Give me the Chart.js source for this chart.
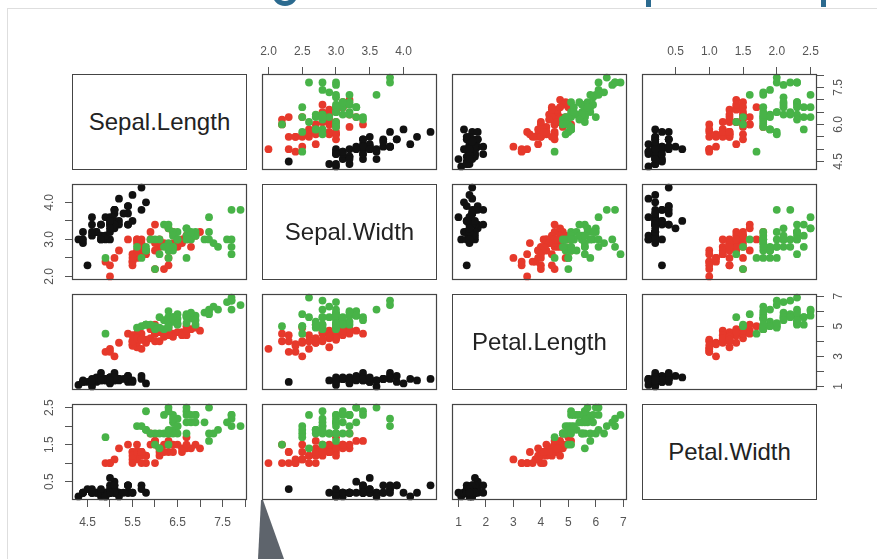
<!DOCTYPE html>
<html>
<head>
<meta charset="utf-8">
<title>Iris pairs plot</title>
<script src="https://cdn.jsdelivr.net/npm/chart.js@4.4.1/dist/chart.umd.min.js"></script>
<style>
  html, body { margin: 0; padding: 0; background: #fff; }
  #page { position: relative; width: 877px; height: 559px; overflow: hidden; font-family: "Liberation Sans", Arial, sans-serif; }
  .frame { position: absolute; left: 7px; top: 8px; width: 900px; height: 600px; border-left: 1px solid #dedede; border-top: 1px solid #dedede; }
  .title-bit { position: absolute; background: #2b6a8f; }
  .title-hook { position: absolute; left: 272px; top: -20px; width: 16px; height: 16px; border: 5px solid #2b6a8f; border-radius: 50%; }
  .tail { position: absolute; left: 250px; top: 495px; width: 40px; height: 64px; background: #5e646c;
          clip-path: polygon(11px 5px, 13px 5px, 34px 64px, 8px 64px); }
  .diag { position: absolute; box-sizing: border-box; border: 1px solid #444; display: flex; align-items: center; justify-content: center; font-size: 24px; color: #222; }
  canvas { position: absolute; }
</style>
</head>
<body>
<div id="page">
  <div class="frame"></div>
  <div class="title-hook"></div>
  <div class="title-bit" style="left:646px; top:0; width:5px; height:7px;"></div>
  <div class="title-bit" style="left:821px; top:0; width:5px; height:7px;"></div>
  <div class="tail"></div>
</div>
<script>
// --- DATA (Edgar Anderson's iris, 50 rows per species) ---
const varNames = ['Sepal.Length', 'Sepal.Width', 'Petal.Length', 'Petal.Width'];
const speciesNames = ['setosa', 'versicolor', 'virginica'];
const speciesCounts = [50, 50, 50];

const sepalLength = [
  5.1,4.9,4.7,4.6,5.0,5.4,4.6,5.0,4.4,4.9,5.4,4.8,4.8,4.3,5.8,5.7,5.4,5.1,5.7,5.1,5.4,5.1,4.6,5.1,4.8,
  5.0,5.0,5.2,5.2,4.7,4.8,5.4,5.2,5.5,4.9,5.0,5.5,4.9,4.4,5.1,5.0,4.5,4.4,5.0,5.1,4.8,5.1,4.6,5.3,5.0,
  7.0,6.4,6.9,5.5,6.5,5.7,6.3,4.9,6.6,5.2,5.0,5.9,6.0,6.1,5.6,6.7,5.6,5.8,6.2,5.6,5.9,6.1,6.3,6.1,6.4,
  6.6,6.8,6.7,6.0,5.7,5.5,5.5,5.8,6.0,5.4,6.0,6.7,6.3,5.6,5.5,5.5,6.1,5.8,5.0,5.6,5.7,5.7,6.2,5.1,5.7,
  6.3,5.8,7.1,6.3,6.5,7.6,4.9,7.3,6.7,7.2,6.5,6.4,6.8,5.7,5.8,6.4,6.5,7.7,7.7,6.0,6.9,5.6,7.7,6.3,6.7,
  7.2,6.2,6.1,6.4,7.2,7.4,7.9,6.4,6.3,6.1,7.7,6.3,6.4,6.0,6.9,6.7,6.9,5.8,6.8,6.7,6.7,6.3,6.5,6.2,5.9
];
const sepalWidth = [
  3.5,3.0,3.2,3.1,3.6,3.9,3.4,3.4,2.9,3.1,3.7,3.4,3.0,3.0,4.0,4.4,3.9,3.5,3.8,3.8,3.4,3.7,3.6,3.3,3.4,
  3.0,3.4,3.5,3.4,3.2,3.1,3.4,4.1,4.2,3.1,3.2,3.5,3.6,3.0,3.4,3.5,2.3,3.2,3.5,3.8,3.0,3.8,3.2,3.7,3.3,
  3.2,3.2,3.1,2.3,2.8,2.8,3.3,2.4,2.9,2.7,2.0,3.0,2.2,2.9,2.9,3.1,3.0,2.7,2.2,2.5,3.2,2.8,2.5,2.8,2.9,
  3.0,2.8,3.0,2.9,2.6,2.4,2.4,2.7,2.7,3.0,3.4,3.1,2.3,3.0,2.5,2.6,3.0,2.6,2.3,2.7,3.0,2.9,2.9,2.5,2.8,
  3.3,2.7,3.0,2.9,3.0,3.0,2.5,2.9,2.5,3.6,3.2,2.7,3.0,2.5,2.8,3.2,3.0,3.8,2.6,2.2,3.2,2.8,2.8,2.7,3.3,
  3.2,2.8,3.0,2.8,3.0,2.8,3.8,2.8,2.8,2.6,3.0,3.4,3.1,3.0,3.1,3.1,3.1,2.7,3.2,3.3,3.0,2.5,3.0,3.4,3.0
];
const petalLength = [
  1.4,1.4,1.3,1.5,1.4,1.7,1.4,1.5,1.4,1.5,1.5,1.6,1.4,1.1,1.2,1.5,1.3,1.4,1.7,1.5,1.7,1.5,1.0,1.7,1.9,
  1.6,1.6,1.5,1.4,1.6,1.6,1.5,1.5,1.4,1.5,1.2,1.3,1.4,1.3,1.5,1.3,1.3,1.3,1.6,1.9,1.4,1.6,1.4,1.5,1.4,
  4.7,4.5,4.9,4.0,4.6,4.5,4.7,3.3,4.6,3.9,3.5,4.2,4.0,4.7,3.6,4.4,4.5,4.1,4.5,3.9,4.8,4.0,4.9,4.7,4.3,
  4.4,4.8,5.0,4.5,3.5,3.8,3.7,3.9,5.1,4.5,4.5,4.7,4.4,4.1,4.0,4.4,4.6,4.0,3.3,4.2,4.2,4.2,4.3,3.0,4.1,
  6.0,5.1,5.9,5.6,5.8,6.6,4.5,6.3,5.8,6.1,5.1,5.3,5.5,5.0,5.1,5.3,5.5,6.7,6.9,5.0,5.7,4.9,6.7,4.9,5.7,
  6.0,4.8,4.9,5.6,5.8,6.1,6.4,5.6,5.1,5.6,6.1,5.6,5.5,4.8,5.4,5.6,5.1,5.1,5.9,5.7,5.2,5.0,5.2,5.4,5.1
];
const petalWidth = [
  0.2,0.2,0.2,0.2,0.2,0.4,0.3,0.2,0.2,0.1,0.2,0.2,0.1,0.1,0.2,0.4,0.4,0.3,0.3,0.3,0.2,0.4,0.2,0.5,0.2,
  0.2,0.4,0.2,0.2,0.2,0.2,0.4,0.1,0.2,0.2,0.2,0.2,0.1,0.2,0.2,0.3,0.3,0.2,0.6,0.4,0.3,0.2,0.2,0.2,0.2,
  1.4,1.5,1.5,1.3,1.5,1.3,1.6,1.0,1.3,1.4,1.0,1.5,1.0,1.4,1.3,1.4,1.5,1.0,1.5,1.1,1.8,1.3,1.5,1.2,1.3,
  1.4,1.4,1.7,1.5,1.0,1.1,1.0,1.2,1.6,1.5,1.6,1.5,1.3,1.3,1.3,1.2,1.4,1.2,1.0,1.3,1.2,1.3,1.3,1.1,1.3,
  2.5,1.9,2.1,1.8,2.2,2.1,1.7,1.8,1.8,2.5,2.0,1.9,2.1,2.0,2.4,2.3,1.8,2.2,2.3,1.5,2.3,2.0,2.0,1.8,2.1,
  1.8,1.8,1.8,2.1,1.6,1.9,2.0,2.2,1.5,1.4,2.3,2.4,1.8,1.8,2.1,2.4,2.3,1.9,2.3,2.5,2.3,1.9,2.0,2.3,1.8
];

// tick marks per variable, and which of them carry a label (x axes / y axes)
const tickValues = [
  [4.5, 5, 5.5, 6, 6.5, 7, 7.5, 8],
  [2, 2.5, 3, 3.5, 4],
  [1, 2, 3, 4, 5, 6, 7],
  [0.5, 1, 1.5, 2, 2.5]
];
const xTickLabels = [
  ['4.5', '5.5', '6.5', '7.5'],
  ['2.0', '2.5', '3.0', '3.5', '4.0'],
  ['1', '2', '3', '4', '5', '6', '7'],
  ['0.5', '1.0', '1.5', '2.0', '2.5']
];
const yTickLabels = [
  ['4.5', '6.0', '7.5'],
  ['2.0', '3.0', '4.0'],
  ['1', '3', '5', '7'],
  ['0.5', '1.5', '2.5']
];

// --- LOOK ---
const speciesColors = ['#111111', '#e6392b', '#48b348'];
const fontFamily = '"Liberation Sans", Arial, sans-serif';
const colX = [72, 262, 452, 642];
const rowY = [74, 184, 294, 404];
const PW = 175, PH = 96, AX = 40, PAD = 12;

const columns = [sepalLength, sepalWidth, petalLength, petalWidth];

// R pairs() pads each range by 4%
function paddedRange(vals) {
  const lo = Math.min(...vals), hi = Math.max(...vals), d = (hi - lo) * 0.04;
  return [lo - d, hi + d];
}
const ranges = columns.map(paddedRange);

function labelFor(list, value) {
  const hit = list.find(t => Number(t) === value);
  return hit === undefined ? '' : hit;
}

// box round each panel
const panelBox = {
  id: 'panelBox',
  afterDraw(chart) {
    const { ctx, chartArea: a } = chart;
    ctx.save();
    ctx.strokeStyle = '#444';
    ctx.lineWidth = 1.2;
    ctx.strokeRect(a.left + 0.5, a.top + 0.5, a.right - a.left - 1, a.bottom - a.top - 1);
    ctx.restore();
  }
};

// R style y labels, turned to read upwards
const yLabels = {
  id: 'yLabels',
  afterDraw(chart, args, opts) {
    const s = chart.scales.y;
    if (!s.options.display || !opts.labels) return;
    const { ctx, chartArea: a } = chart;
    const x = s.options.position === 'left' ? a.left - 22 : a.right + 22;
    ctx.save();
    ctx.fillStyle = '#555';
    ctx.font = '12px ' + fontFamily;
    ctx.textAlign = 'center';
    ctx.textBaseline = 'middle';
    opts.labels.forEach(t => {
      ctx.save();
      ctx.translate(x, s.getPixelForValue(Number(t)));
      ctx.rotate(-Math.PI / 2);
      ctx.fillText(t, 0, 0);
      ctx.restore();
    });
    ctx.restore();
  }
};

function seriesFor(r, c) {
  let start = 0;
  return speciesNames.map((name, k) => {
    const pts = [];
    for (let i = start; i < start + speciesCounts[k]; i++) {
      pts.push({ x: columns[c][i], y: columns[r][i] });
    }
    start += speciesCounts[k];
    return {
      label: name,
      data: pts,
      backgroundColor: speciesColors[k],
      borderWidth: 0,
      pointRadius: 3.9,
      pointBorderWidth: 0,
      order: speciesNames.length - k,
      clip: false
    };
  });
}

function axis(v, position, show, horizontal) {
  return {
    type: 'linear',
    position: position,
    display: show,
    min: ranges[v][0],
    max: ranges[v][1],
    afterBuildTicks: s => { s.ticks = tickValues[v].map(t => ({ value: t })); },
    afterFit: s => {
      if (show) {
        if (horizontal) s.height = AX; else s.width = AX;
      }
      s.paddingLeft = s.paddingRight = s.paddingTop = s.paddingBottom = 0;
    },
    grid: { drawOnChartArea: false, drawTicks: true, tickLength: 7, color: '#555', lineWidth: 1 },
    border: { display: false },
    ticks: {
      display: horizontal,
      autoSkip: false,
      maxRotation: 0,
      minRotation: 0,
      padding: 8,
      color: '#555',
      font: { size: 12, family: fontFamily },
      callback: value => labelFor(xTickLabels[v], value)
    }
  };
}

const page = document.getElementById('page');

for (let r = 0; r < 4; r++) {
  for (let c = 0; c < 4; c++) {
    if (r === c) {
      const d = document.createElement('div');
      d.className = 'diag';
      d.style.left = colX[c] + 'px';
      d.style.top = rowY[r] + 'px';
      d.style.width = PW + 'px';
      d.style.height = PH + 'px';
      d.textContent = varNames[r];
      page.appendChild(d);
      continue;
    }
    const hasTop = r === 0 && c % 2 === 1;
    const hasBottom = r === 3 && c % 2 === 0;
    const hasLeft = c === 0 && r % 2 === 1;
    const hasRight = c === 3 && r % 2 === 0;

    const cv = document.createElement('canvas');
    const w = PW + (hasLeft ? AX : 0) + (hasRight ? AX : 0) + 2 * PAD;
    const h = PH + (hasTop ? AX : 0) + (hasBottom ? AX : 0) + 2 * PAD;
    cv.width = w;
    cv.height = h;
    cv.style.width = w + 'px';
    cv.style.height = h + 'px';
    cv.style.left = (colX[c] - (hasLeft ? AX : 0) - PAD) + 'px';
    cv.style.top = (rowY[r] - (hasTop ? AX : 0) - PAD) + 'px';
    page.appendChild(cv);

    new Chart(cv.getContext('2d'), {
      type: 'scatter',
      data: { datasets: seriesFor(r, c) },
      options: {
        responsive: false,
        animation: false,
        events: [],
        layout: { padding: PAD, autoPadding: false },
        scales: {
          x: axis(c, hasTop ? 'top' : 'bottom', hasTop || hasBottom, true),
          y: axis(r, hasLeft ? 'left' : 'right', hasLeft || hasRight, false)
        },
        plugins: {
          legend: { display: false },
          tooltip: { enabled: false },
          yLabels: { labels: (hasLeft || hasRight) ? yTickLabels[r] : null }
        }
      },
      plugins: [panelBox, yLabels]
    });
  }
}
</script>
</body>
</html>
